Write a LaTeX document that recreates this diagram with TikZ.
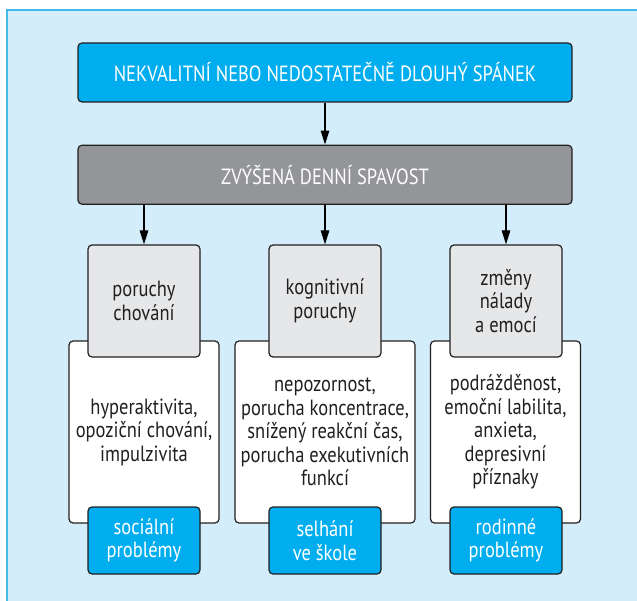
\documentclass[tikz,border=0pt]{standalone}
\usepackage{fontspec}
\setmainfont{PT Sans}[FakeStretch=0.84]
\usetikzlibrary{positioning,arrows.meta}

\definecolor{panelblue}{HTML}{D3EEFA}
\definecolor{panelline}{HTML}{3FBAEB}
\definecolor{boxcyan}{HTML}{00AEEF}
\definecolor{boxgray}{HTML}{939598}
\definecolor{headgray}{HTML}{E6E7E8}
\definecolor{boxline}{HTML}{231F20}

\begin{document}
\begin{tikzpicture}[x=1pt,y=-1pt,node distance=42pt,
  box/.style={draw=boxline,line width=1.2pt,rounded corners=4pt,align=center,inner sep=0pt},
  wide/.style={box,minimum width=494pt,minimum height=59pt,font=\fontsize{22}{26}\selectfont,text=white},
  head/.style={box,fill=headgray,minimum width=112pt,minimum height=112pt,font=\fontsize{22}{23.5}\selectfont,text=boxline},
  list/.style={box,fill=white,minimum width=150pt,minimum height=182pt,font=\fontsize{22}{23.5}\selectfont,text=boxline},
  foot/.style={box,fill=boxcyan,minimum width=112pt,minimum height=67pt,font=\fontsize{22}{23.5}\selectfont,text=white},
  >={Triangle[length=14pt,width=8.5pt]}]
\useasboundingbox (0,0) rectangle (637,601);
% panel
\draw[fill=panelblue,draw=panelline,line width=1.2pt] (7,10) rectangle (645,610);

\node[wide,fill=boxcyan] (spanek) at (325,72.5) {NEKVALITNÍ NEBO NEDOSTATEČNĚ DLOUHÝ SPÁNEK};
\node[wide,fill=boxgray] (spavost) [below=42pt of spanek] {ZVÝŠENÁ DENNÍ SPAVOST};

% white lists first, boxes on top
\node[list] (chovaniList) at (144,432)   {hyperaktivita,\\opoziční chování,\\impulzivita};
\node[list,minimum width=180pt] (kogniceList) at (325,432) {nepozornost,\\porucha koncentrace,\\snížený reakční čas,\\porucha exekutivních\\funkcí};
\node[list] (naladaList)  at (505.5,432) {podrážděnost,\\emoční labilita,\\anxieta,\\depresivní\\příznaky};

\node[head] (chovani) at (144,301)   {poruchy\\chování};
\node[head] (kognice) at (325,301)   {kognitivní\\poruchy};
\node[head] (nalada)  at (506,301)   {změny\\nálady\\a emocí};

\node[foot] (socialni) at (144,540.5) {sociální\\problémy};
\node[foot] (skola)    at (325,540.5) {selhání\\ve škole};
\node[foot] (rodina)   at (506,540.5) {rodinné\\problémy};

\draw[->,line width=1.2pt] (spanek) -- (spavost);
\draw[->,line width=1.2pt] (spavost.south -| chovani.north) -- (chovani.north);
\draw[->,line width=1.2pt] (spavost.south -| kognice.north) -- (kognice.north);
\draw[->,line width=1.2pt] (spavost.south -| nalada.north) -- (nalada.north);
\end{tikzpicture}
\end{document}
